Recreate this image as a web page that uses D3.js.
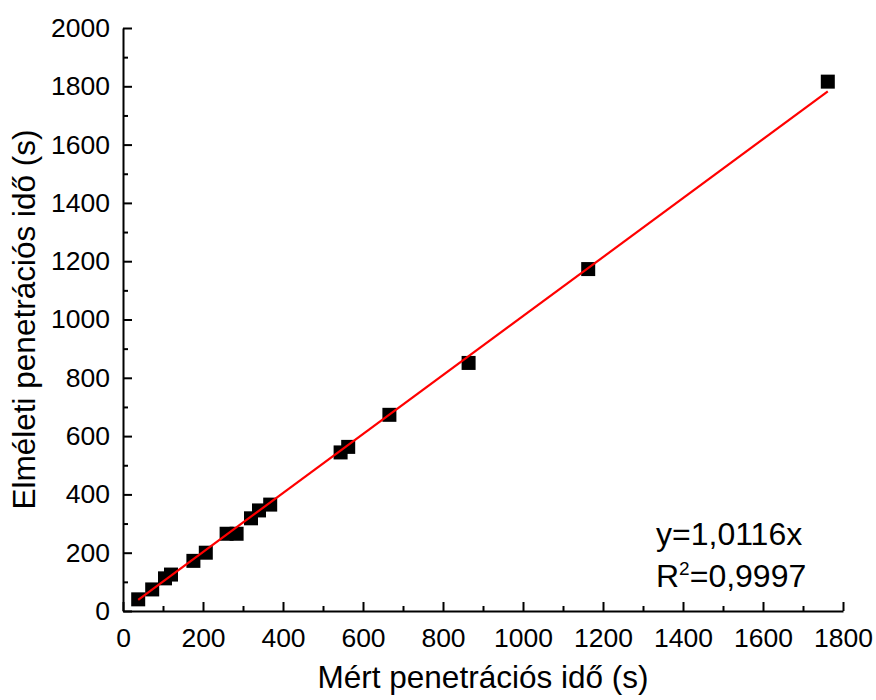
<!DOCTYPE html>
<html>
<head>
<meta charset="utf-8">
<script src="https://cdn.jsdelivr.net/npm/d3@7"></script>
<style>
  html, body { margin: 0; padding: 0; background: #fff; }
  text { font-family: "Liberation Sans", Arial, sans-serif; fill: #000; }
</style>
</head>
<body>
<svg id="chart" width="876" height="700"></svg>
<script>
// Measured penetration time (s)
const measured = [38, 73, 105, 120, 176, 207, 259, 284, 320, 340, 368, 544, 563, 666, 864, 1163, 1762];
// Theoretical penetration time (s)
const theoretical = [40, 74, 112, 125, 172, 200, 265, 265, 318, 345, 365, 544, 563, 673, 851, 1173, 1816];
const slope = 1.0116;
const xTicks = [0, 200, 400, 600, 800, 1000, 1200, 1400, 1600, 1800];
const yTicks = [0, 200, 400, 600, 800, 1000, 1200, 1400, 1600, 1800, 2000];
const xMinor = d3.range(100, 1800, 200);
const yMinor = d3.range(100, 2000, 200);
const xTitle = "Mért penetrációs idő (s)";
const yTitle = "Elméleti penetrációs idő (s)";
const eqText = "y=1,0116x";
const r2Value = "=0,9997";

const svg = d3.select("#chart");
const mLeft = 123, mRight = 843, mTop = 28, mBottom = 611;

const x = d3.scaleLinear().domain([0, 1800]).range([mLeft, mRight]);
const y = d3.scaleLinear().domain([0, 2000]).range([mBottom, mTop]);

// Minor ticks
const xMinorAxis = d3.axisTop(x).tickValues(xMinor).tickSize(5).tickFormat("");
const yMinorAxis = d3.axisRight(y).tickValues(yMinor).tickSize(5).tickFormat("");
svg.append("g").attr("transform", `translate(0,${mBottom})`).call(xMinorAxis)
  .call(g => g.select(".domain").remove())
  .selectAll("line").attr("stroke", "#000").attr("stroke-width", 2);
svg.append("g").attr("transform", `translate(${mLeft},0)`).call(yMinorAxis)
  .call(g => g.select(".domain").remove())
  .selectAll("line").attr("stroke", "#000").attr("stroke-width", 2);

// Major ticks (inward)
const xAxis = d3.axisBottom(x).tickValues(xTicks).tickSizeInner(-9).tickSizeOuter(0).tickPadding(17).tickFormat(d3.format("d"));
const yAxis = d3.axisLeft(y).tickValues(yTicks).tickSizeInner(-9).tickSizeOuter(0).tickPadding(13).tickFormat(d3.format("d"));

const gx = svg.append("g").attr("transform", `translate(0,${mBottom})`).call(xAxis);
const gy = svg.append("g").attr("transform", `translate(${mLeft},0)`).call(yAxis);
[gx, gy].forEach(g => {
  g.select(".domain").attr("stroke", "#000").attr("stroke-width", 2);
  g.selectAll(".tick line").attr("stroke", "#000").attr("stroke-width", 2);
  g.selectAll(".tick text").attr("font-size", 26.5).attr("font-family", "Liberation Sans, Arial, sans-serif").attr("fill", "#000");
});

// Points
const sz = 14;
svg.append("g").selectAll("rect")
  .data(measured.map((m, i) => [m, theoretical[i]]))
  .join("rect")
  .attr("x", d => x(d[0]) - sz / 2)
  .attr("y", d => y(d[1]) - sz / 2)
  .attr("width", sz).attr("height", sz)
  .attr("fill", "#000");

// Fit line (drawn over the squares)
const xs = d3.extent(measured);
svg.append("line")
  .attr("x1", x(xs[0])).attr("y1", y(slope * xs[0]))
  .attr("x2", x(xs[1])).attr("y2", y(slope * xs[1]))
  .attr("stroke", "#ff0000").attr("stroke-width", 2.2);

// Axis titles
svg.append("text")
  .attr("x", (mLeft + mRight) / 2).attr("y", 688)
  .attr("text-anchor", "middle").attr("font-size", 31.5)
  .text(xTitle);
svg.append("text")
  .attr("transform", `translate(35,${(mTop + mBottom) / 2}) rotate(-90)`)
  .attr("text-anchor", "middle").attr("font-size", 31.5)
  .text(yTitle);

// Annotation
svg.append("text").attr("x", 656).attr("y", 545).attr("font-size", 32).text(eqText);
const r2 = svg.append("text").attr("x", 656).attr("y", 587).attr("font-size", 32);
r2.append("tspan").text("R");
r2.append("tspan").attr("font-size", 19).attr("dy", -12).text("2");
r2.append("tspan").attr("dy", 12).text(r2Value);
</script>
</body>
</html>
